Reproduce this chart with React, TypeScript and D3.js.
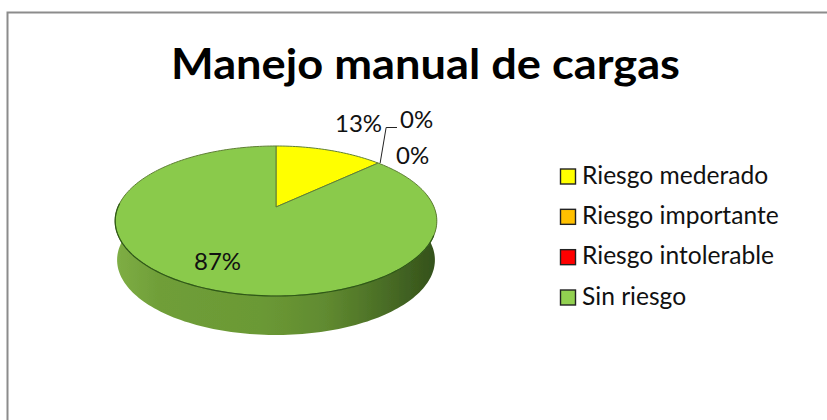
import React from "react";
import * as d3 from "d3";

const title = "Manejo manual de cargas";
const categories = ["Riesgo mederado", "Riesgo importante", "Riesgo intolerable", "Sin riesgo"];
const values = [13, 0, 0, 87];
const colors = ["#ffff00", "#ffc000", "#ff0000", "#92d050"];
const faceColors = ["#ffff00", "#ffc000", "#ff0000", "#8aca4c"];

const W = 827, H = 420;
const ax = 276, ay = 207, rc = 158, ra = 72.4, persp = -0.1867, depth = 39;

function project(angle: number): [number, number] {
  const X = Math.sin(angle), Y = -Math.cos(angle);
  const d = 1 + persp * Y;
  return [ax + (rc * X) / d, ay + (ra * Y) / d];
}
function rim(a0: number, a1: number, dy = 0, sx = 1): [number, number][] {
  const n = Math.max(2, Math.ceil(Math.abs(a1 - a0) * 40));
  return d3.range(n + 1).map((i) => {
    const [x, y] = project(a0 + ((a1 - a0) * i) / n);
    return [ax + (x - ax) * sx, y + dy] as [number, number];
  });
}

export default function App() {
  const arcs = d3.pie<number>().sort(null)(values);
  const line = d3.line();
  const leftmost = Math.PI * 1.5 + 0.19;
  const rightmost = Math.PI / 2 - 0.19;
  const sidePts = [...rim(rightmost, leftmost), ...rim(leftmost, rightmost, depth, 0.988)];
  const legendY = d3.scalePoint<string>().domain(categories).range([176.5, 297.5]);
  const yellowEnd = project(arcs[0].endAngle);
  return (
    <svg width={W} height={H} style={{ position: "absolute", left: 0, top: 0, background: "#fff" }}
      fontFamily="Lato, 'Open Sans', sans-serif">
      <defs>
        <linearGradient id="side" x1="0" x2="1" y1="0" y2="0">
          <stop offset="0" stopColor="#7fae45" />
          <stop offset="0.14" stopColor="#6f9e38" />
          <stop offset="0.45" stopColor="#6b9935" />
          <stop offset="0.65" stopColor="#618b30" />
          <stop offset="0.85" stopColor="#486b25" />
          <stop offset="1" stopColor="#33501a" />
        </linearGradient>
        <filter id="soft" x="-5%" y="-5%" width="110%" height="110%">
          <feGaussianBlur stdDeviation="0.5" />
        </filter>
      </defs>
      <path d="M827,12.5 H7.5 V420" fill="none" stroke="#8c8c8c" strokeWidth={2} />
      <text x={425.5} y={79} textAnchor="middle" fontSize={42} textLength={509} lengthAdjust="spacingAndGlyphs"
        fontWeight={700} fill="#000">{title}</text>
      <g filter="url(#soft)">
        <path d={line(sidePts) + "Z"} fill="url(#side)" />
        {arcs.filter((a) => a.endAngle > a.startAngle).map((a, i) => (
          <path key={i}
            d={line([[ax, ay], ...rim(a.startAngle, a.endAngle)]) + "Z"}
            fill={faceColors[a.index]} stroke="#5f7f35" strokeWidth={1} strokeLinejoin="round" />
        ))}
        <path d={line(rim(Math.PI * 0.62, Math.PI * 1.5 + 0.05)) ?? ""} fill="none" stroke="#2f5a17" strokeWidth={1.2} />
      </g>
      <path d={line([[yellowEnd[0] + 2, yellowEnd[1]], [yellowEnd[0] + 8, 127.5], [397, 127.5]]) ?? ""}
        fill="none" stroke="#222" strokeWidth={1} />
      <g fontSize={24} fill="#111">
        <text x={335} y={132}>{values[0]}%</text>
        <text x={400} y={128}>{values[1]}%</text>
        <text x={396} y={164}>{values[2]}%</text>
        <text x={194} y={270}>{values[3]}%</text>
      </g>
      {categories.map((c, i) => {
        const y = legendY(c) as number;
        return (
          <g key={c}>
            <rect x={560.5} y={y - 7.5} width={15} height={15} fill={colors[i]} stroke="#222" strokeWidth={1.4} />
            <text x={582} y={y + 7} fontSize={24.6} fill="#111">{c}</text>
          </g>
        );
      })}
    </svg>
  );
}
